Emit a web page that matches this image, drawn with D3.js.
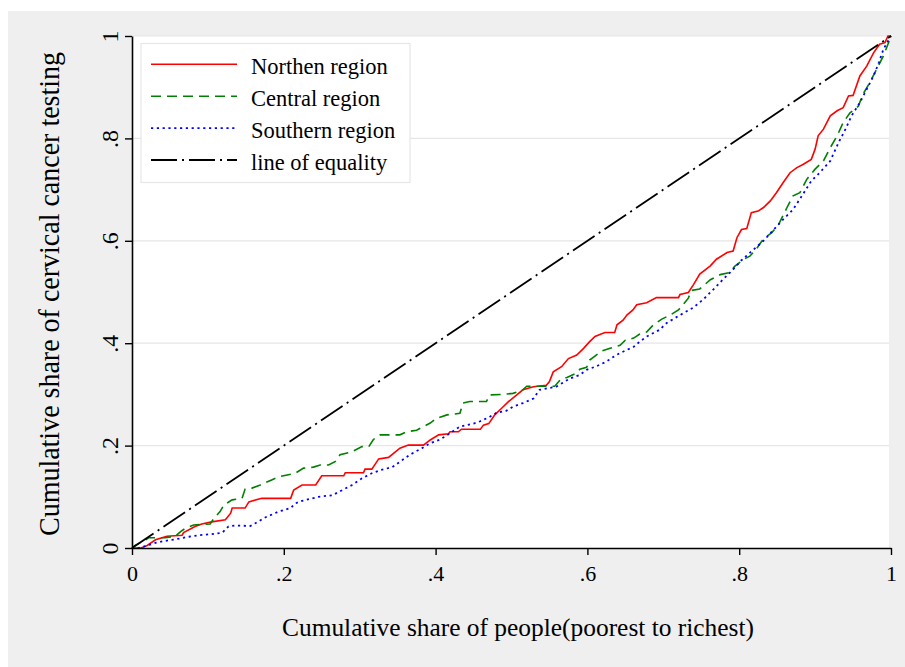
<!DOCTYPE html>
<html>
<head>
<meta charset="utf-8">
<script src="https://cdn.jsdelivr.net/npm/d3@7/dist/d3.min.js"></script>
<style>
  body { margin: 0; background: #fff; }
  svg text { font-family: "Liberation Serif", "Times New Roman", serif; fill: #000; }
</style>
</head>
<body>
<svg id="chart"></svg>
<script>
// concentration curves, [share of people, share of testing]
var northern = [[0,0],[0.012,0],[0.020,0.005],[0.031,0.016],[0.046,0.023],[0.066,0.025],[0.068,0.030],[0.083,0.042],[0.092,0.047],[0.105,0.051],[0.123,0.055],[0.130,0.068],[0.132,0.078],[0.149,0.078],[0.154,0.090],[0.158,0.092],[0.171,0.097],[0.209,0.097],[0.213,0.113],[0.224,0.123],[0.242,0.123],[0.250,0.141],[0.279,0.141],[0.281,0.147],[0.305,0.147],[0.307,0.154],[0.316,0.154],[0.325,0.174],[0.338,0.177],[0.353,0.195],[0.364,0.201],[0.384,0.201],[0.393,0.211],[0.404,0.221],[0.417,0.223],[0.419,0.227],[0.430,0.227],[0.434,0.232],[0.459,0.232],[0.463,0.240],[0.470,0.243],[0.478,0.260],[0.487,0.273],[0.496,0.286],[0.507,0.299],[0.515,0.309],[0.529,0.315],[0.546,0.318],[0.550,0.325],[0.555,0.344],[0.566,0.354],[0.575,0.370],[0.586,0.377],[0.595,0.390],[0.603,0.403],[0.610,0.413],[0.623,0.421],[0.636,0.421],[0.639,0.436],[0.647,0.445],[0.652,0.455],[0.660,0.465],[0.665,0.475],[0.678,0.479],[0.691,0.489],[0.720,0.489],[0.722,0.495],[0.733,0.499],[0.740,0.515],[0.748,0.535],[0.762,0.551],[0.770,0.564],[0.784,0.577],[0.792,0.580],[0.797,0.606],[0.803,0.622],[0.810,0.624],[0.816,0.655],[0.825,0.658],[0.832,0.665],[0.841,0.678],[0.849,0.694],[0.858,0.714],[0.867,0.733],[0.876,0.743],[0.884,0.749],[0.895,0.759],[0.900,0.779],[0.904,0.805],[0.911,0.818],[0.920,0.844],[0.929,0.854],[0.937,0.860],[0.944,0.883],[0.950,0.884],[0.959,0.922],[0.968,0.941],[0.977,0.967],[0.985,0.984],[0.992,0.987],[0.996,1.0],[1,1]];

var central = [[0,0],[0.004,0.005],[0.018,0.016],[0.022,0.020],[0.044,0.020],[0.057,0.023],[0.064,0.032],[0.070,0.038],[0.081,0.045],[0.103,0.047],[0.108,0.058],[0.116,0.071],[0.121,0.084],[0.132,0.094],[0.145,0.097],[0.149,0.115],[0.158,0.117],[0.169,0.123],[0.184,0.133],[0.193,0.139],[0.206,0.143],[0.215,0.146],[0.226,0.156],[0.239,0.158],[0.248,0.162],[0.259,0.162],[0.268,0.169],[0.274,0.182],[0.290,0.188],[0.303,0.198],[0.312,0.198],[0.318,0.212],[0.327,0.221],[0.353,0.221],[0.362,0.227],[0.375,0.230],[0.384,0.237],[0.393,0.244],[0.401,0.253],[0.415,0.260],[0.432,0.263],[0.436,0.283],[0.445,0.286],[0.467,0.286],[0.471,0.299],[0.489,0.300],[0.502,0.302],[0.515,0.309],[0.520,0.316],[0.557,0.316],[0.564,0.328],[0.573,0.333],[0.586,0.342],[0.590,0.349],[0.599,0.353],[0.603,0.367],[0.612,0.377],[0.619,0.385],[0.630,0.390],[0.643,0.396],[0.650,0.406],[0.661,0.410],[0.669,0.418],[0.678,0.422],[0.687,0.436],[0.698,0.447],[0.709,0.455],[0.720,0.465],[0.726,0.475],[0.733,0.488],[0.737,0.503],[0.748,0.506],[0.762,0.524],[0.775,0.534],[0.788,0.538],[0.794,0.550],[0.805,0.563],[0.814,0.570],[0.823,0.585],[0.832,0.604],[0.843,0.616],[0.852,0.632],[0.863,0.665],[0.871,0.688],[0.880,0.694],[0.889,0.720],[0.900,0.740],[0.911,0.756],[0.920,0.782],[0.929,0.805],[0.937,0.831],[0.946,0.850],[0.957,0.863],[0.963,0.886],[0.972,0.909],[0.981,0.935],[0.990,0.961],[0.996,0.984],[1,1]];

var southern = [[0,0],[0.009,0],[0.018,0.004],[0.031,0.010],[0.044,0.014],[0.057,0.017],[0.075,0.022],[0.088,0.025],[0.105,0.027],[0.119,0.030],[0.127,0.042],[0.136,0.044],[0.156,0.043],[0.162,0.048],[0.176,0.060],[0.193,0.071],[0.209,0.078],[0.215,0.087],[0.224,0.092],[0.246,0.100],[0.264,0.103],[0.277,0.113],[0.290,0.123],[0.303,0.136],[0.316,0.146],[0.327,0.152],[0.343,0.158],[0.366,0.182],[0.382,0.195],[0.392,0.204],[0.406,0.212],[0.419,0.224],[0.432,0.237],[0.450,0.243],[0.458,0.247],[0.471,0.256],[0.480,0.264],[0.493,0.268],[0.502,0.276],[0.515,0.283],[0.529,0.292],[0.537,0.309],[0.559,0.315],[0.570,0.325],[0.577,0.331],[0.590,0.338],[0.599,0.348],[0.612,0.355],[0.625,0.364],[0.638,0.377],[0.652,0.387],[0.661,0.393],[0.669,0.403],[0.678,0.413],[0.687,0.420],[0.695,0.426],[0.704,0.439],[0.722,0.455],[0.740,0.470],[0.753,0.486],[0.766,0.505],[0.779,0.525],[0.792,0.544],[0.803,0.562],[0.819,0.583],[0.832,0.600],[0.845,0.621],[0.858,0.642],[0.871,0.661],[0.884,0.691],[0.895,0.717],[0.906,0.733],[0.920,0.756],[0.931,0.792],[0.940,0.818],[0.948,0.844],[0.959,0.870],[0.968,0.896],[0.977,0.922],[0.984,0.948],[0.990,0.974],[0.997,0.993],[1,1]];

var equality = [[0,0],[1,1]];

var tickValues = [0, 0.2, 0.4, 0.6, 0.8, 1];
var tickLabels = ["0", ".2", ".4", ".6", ".8", "1"];

var legendLabels = ["Northen region", "Central region", "Southern region", "line of equality"];

var series = [
  { data: northern, color: "#ff0000", dash: null, width: 1.6 },
  { data: central, color: "#008000", dash: "10,6", width: 1.6 },
  { data: southern, color: "#0000ff", dash: "2.2,3.6", width: 1.8 },
  { data: equality, color: "#000000", dash: "26,5,2,5", width: 1.8 }
];

var width = 905,
    height = 667;

// plot region edges (window.top is read-only, so no "top" here)
var plotLeft = 132, plotRight = 891, plotTop = 36, plotBottom = 548, plotFillRight = 889;

var svg = d3.select("#chart")
  .attr("width", width)
  .attr("height", height);

// graph region
svg.append("rect")
  .attr("x", 8)
  .attr("y", 11)
  .attr("width", width - 8)
  .attr("height", height - 11)
  .style("fill", "#efefef");

// plot region
svg.append("rect")
  .attr("x", plotLeft)
  .attr("y", plotTop)
  .attr("width", plotFillRight - plotLeft)
  .attr("height", plotBottom - plotTop)
  .style("fill", "#ffffff");

var xScale = d3.scaleLinear().domain([0, 1]).range([plotLeft, plotRight]);
var yScale = d3.scaleLinear().domain([0, 1]).range([plotBottom, plotTop]);

// gridlines
svg.append("g")
  .selectAll("line")
  .data(tickValues.slice(1))
  .enter()
  .append("line")
  .attr("x1", plotLeft)
  .attr("x2", plotFillRight)
  .attr("y1", function (d) { return yScale(d); })
  .attr("y2", function (d) { return yScale(d); })
  .style("stroke", "#e6e6e6")
  .style("stroke-width", 1.2);

svg.append("clipPath")
  .attr("id", "plotclip")
  .append("rect")
  .attr("x", plotLeft - 2)
  .attr("y", plotTop - 3)
  .attr("width", plotRight - plotLeft + 4)
  .attr("height", plotBottom - plotTop + 4);

var line = d3.line()
  .x(function (d) { return xScale(d[0]); })
  .y(function (d) { return yScale(d[1]); });

var curves = svg.append("g").attr("clip-path", "url(#plotclip)");

series.forEach(function (s) {
  curves.append("path")
    .attr("d", line(s.data))
    .style("fill", "none")
    .style("stroke", s.color)
    .style("stroke-width", s.width)
    .style("stroke-dasharray", s.dash);
});

// axes
var xAxis = d3.axisBottom(xScale)
  .tickValues(tickValues)
  .tickFormat(function (d, i) { return tickLabels[i]; })
  .tickSize(7)
  .tickSizeOuter(0);

var gx = svg.append("g")
  .attr("transform", "translate(0," + plotBottom + ")")
  .call(xAxis);

gx.select(".domain").style("stroke", "#000").style("stroke-width", 1.6);
gx.selectAll(".tick line").style("stroke", "#000").style("stroke-width", 1.4);
gx.selectAll(".tick text")
  .attr("dy", null)
  .attr("y", 33)
  .style("font-size", "22px")
  .style("font-family", "Liberation Serif");

var yAxis = d3.axisLeft(yScale)
  .tickValues(tickValues)
  .tickFormat(function (d, i) { return tickLabels[i]; })
  .tickSize(7)
  .tickSizeOuter(0);

var gy = svg.append("g")
  .attr("transform", "translate(" + plotLeft + ",0)")
  .call(yAxis);

gy.select(".domain").style("stroke", "#000").style("stroke-width", 1.6);
gy.selectAll(".tick line").style("stroke", "#000").style("stroke-width", 1.4);
gy.selectAll(".tick text")
  .attr("x", null)
  .attr("dy", null)
  .attr("transform", "translate(-14,0) rotate(-90)")
  .attr("text-anchor", "middle")
  .attr("y", 0)
  .style("font-size", "24px")
  .style("font-family", "Liberation Serif");

// axis titles
svg.append("text")
  .attr("x", 282)
  .attr("y", 636)
  .attr("textLength", 472)
  .attr("lengthAdjust", "spacingAndGlyphs")
  .style("font-size", "25px")
  .text("Cumulative share of people(poorest to richest)");

svg.append("text")
  .attr("transform", "translate(58.5,536) rotate(-90)")
  .attr("textLength", 484)
  .attr("lengthAdjust", "spacingAndGlyphs")
  .style("font-size", "29px")
  .text("Cumulative share of cervical cancer testing");

// legend
var legend = svg.append("g");

legend.append("rect")
  .attr("x", 141)
  .attr("y", 43.5)
  .attr("width", 269)
  .attr("height", 139)
  .style("fill", "#fff")
  .style("stroke", "#e6e6e6")
  .style("stroke-width", 1.2);

var rows = legend.selectAll(".row")
  .data(series)
  .enter()
  .append("g")
  .attr("class", "row")
  .attr("transform", function (d, i) { return "translate(0," + (64.3 + i * 31.9) + ")"; });

rows.append("line")
  .attr("x1", 151)
  .attr("x2", 237)
  .attr("y1", 0)
  .attr("y2", 0)
  .style("stroke", function (d) { return d.color; })
  .style("stroke-width", function (d) { return d.width; })
  .style("stroke-dasharray", function (d) { return d.dash; });

rows.append("text")
  .attr("x", 251)
  .attr("y", 9.5)
  .style("font-size", "22.5px")
  .text(function (d, i) { return legendLabels[i]; });
</script>
</body>
</html>
